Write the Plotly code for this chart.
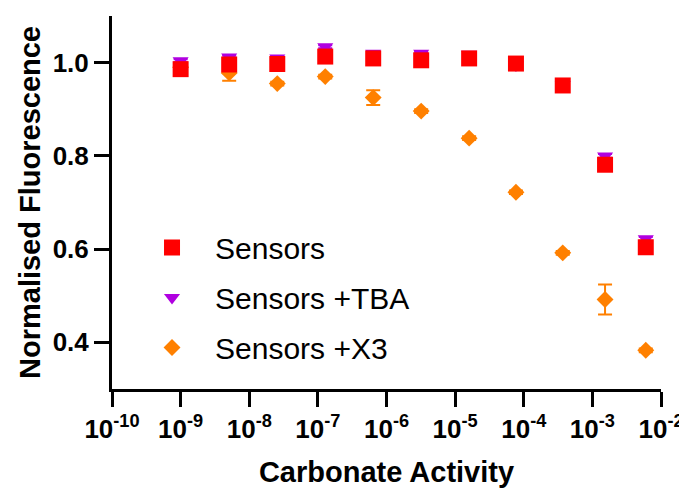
import plotly.graph_objects as go

# Data
conc = [1.0e-9, 5.1e-9, 2.56e-8, 1.28e-7, 6.4e-7, 3.2e-6, 1.6e-5, 7.7e-5, 3.7e-4, 1.53e-3, 6.0e-3]
sensors = [0.986, 0.996, 0.997, 1.013, 1.009, 1.005, 1.009, 0.998, 0.951, 0.781, 0.604]
sensors_err = [0.004, 0.004, 0.004, 0.004, 0.004, 0.004, 0.004, 0.004, 0.004, 0.006, 0.006]
tba = [1.004, 1.012, 1.010, 1.034, 1.020, 1.020, 1.018, 0.995, 0.953, 0.800, 0.622]
tba_err = [0.003, 0.003, 0.003, 0.003, 0.003, 0.003, 0.003, 0.003, 0.003, 0.004, 0.004]
x3 = [0.990, 0.978, 0.955, 0.970, 0.925, 0.896, 0.838, 0.722, 0.592, 0.492, 0.383]
x3_err = [0.004, 0.017, 0.004, 0.004, 0.016, 0.004, 0.004, 0.004, 0.004, 0.032, 0.004]

x_tickvals = [1e-10, 1e-9, 1e-8, 1e-7, 1e-6, 1e-5, 1e-4, 1e-3, 1e-2]
x_ticktext = ["10<sup>-10</sup>", "10<sup>-9</sup>", "10<sup>-8</sup>", "10<sup>-7</sup>",
              "10<sup>-6</sup>", "10<sup>-5</sup>", "10<sup>-4</sup>", "10<sup>-3</sup>",
              "10<sup>-2</sup>"]
y_tickvals = [0.4, 0.6, 0.8, 1.0]
y_ticktext = ["0.4", "0.6", "0.8", "1.0"]

FONT = "Liberation Sans, Arial, sans-serif"

fig = go.Figure()

# draw order: X3 bottom, TBA middle, Sensors top
fig.add_trace(go.Scatter(
    x=conc, y=x3, mode="markers", name="Sensors +X3", legendrank=3, legendgroup="c",
    marker=dict(symbol="diamond", size=13, color="#FF8000"),
    error_y=dict(type="data", array=x3_err, color="#FF8000", thickness=2, width=7),
))
fig.add_trace(go.Scatter(
    x=conc, y=tba, mode="markers", name="Sensors +TBA", legendrank=2, legendgroup="b",
    marker=dict(symbol="triangle-down", size=14, color="#B000E0"),
    error_y=dict(type="data", array=tba_err, color="#B000E0", thickness=2, width=7),
))
fig.add_trace(go.Scatter(
    x=conc, y=sensors, mode="markers", name="Sensors", legendrank=1, legendgroup="a",
    marker=dict(symbol="square", size=16, color="#FF0000"),
    error_y=dict(type="data", array=sensors_err, color="#FF0000", thickness=2, width=7),
))

fig.update_layout(
    width=679, height=480,
    margin=dict(l=104, r=26, t=8, b=99),
    paper_bgcolor="white", plot_bgcolor="white",
    font=dict(family=FONT, color="black"),
    legend=dict(
        x=0.031, y=0.449, xanchor="left", yanchor="top",
        font=dict(family=FONT, size=30, color="black"),
        traceorder="grouped", tracegroupgap=8, itemwidth=76,
        bgcolor="rgba(0,0,0,0)",
    ),
    showlegend=True,
)
fig.update_xaxes(
    type="log", range=[-10, -2], automargin=False,
    tickvals=x_tickvals, ticktext=x_ticktext,
    ticks="outside", ticklen=15, tickwidth=3, tickcolor="black",
    showline=True, linewidth=3, linecolor="black",
    showgrid=False, zeroline=False,
    tickfont=dict(family=FONT, size=26, color="black", weight="bold"),
    title=dict(text="Carbonate Activity", font=dict(family=FONT, size=29, color="black", weight="bold"), standoff=20),
)
fig.update_yaxes(
    range=[0.3, 1.1], automargin=False,
    tickvals=y_tickvals, ticktext=y_ticktext,
    ticks="outside", ticklen=15, tickwidth=3, tickcolor="black",
    showline=True, linewidth=3, linecolor="black",
    showgrid=False, zeroline=False,
    tickfont=dict(family=FONT, size=26, color="black", weight="bold"),
    title=dict(text="Normalised Fluorescence", font=dict(family=FONT, size=29, color="black", weight="bold"), standoff=4),
)

fig.write_html("out.html")
